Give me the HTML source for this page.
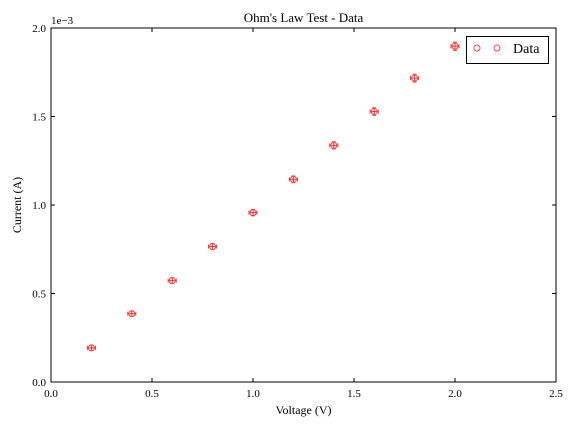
<!DOCTYPE html>
<html><head><meta charset="utf-8"><style>
body{margin:0;background:#fff}
svg{font-family:"Liberation Serif",serif}
</style></head><body>
<svg width="576" height="432" viewBox="0 0 576 432">
<rect width="576" height="432" fill="#fff"/>
<g id="g"></g>
</svg>
<script>
const xVals=[0.2,0.4,0.6,0.8,1.0,1.2,1.4,1.6,1.8,2.0];
const yVals=[0.193,0.386,0.573,0.765,0.957,1.145,1.337,1.528,1.717,1.897];
const xErr=[0.02,0.02,0.02,0.02,0.02,0.02,0.02,0.02,0.02,0.02];
const yErr=[0.015,0.015,0.016,0.017,0.018,0.019,0.02,0.021,0.022,0.023];
const xTicks=["0.0","0.5","1.0","1.5","2.0","2.5"];
const yTicks=["0.0","0.5","1.0","1.5","2.0"];
const L=51,R=556,T=28,B=382;
const xs=v=>L+(v/2.5)*(R-L), ys=v=>B-(v/2.0)*(B-T);
const g=document.getElementById('g');const NS='http://www.w3.org/2000/svg';
function mk(t,a,p){const e=document.createElementNS(NS,t);for(const k in a)e.setAttribute(k,a[k]);(p||g).appendChild(e);return e;}
let e;
e=mk('rect',{x:L,y:T,width:R-L,height:B-T,fill:'none',stroke:'#000','stroke-width':1});


xTicks.forEach(t=>{const x=xs(+t);
 mk('line',{x1:x,x2:x,y1:B,y2:B-4,stroke:'#000'});mk('line',{x1:x,x2:x,y1:T,y2:T+4,stroke:'#000'});
 e=mk('text',{x:x,y:B+15,'text-anchor':'middle','font-size':11});e.textContent=t;
 
 });
yTicks.forEach(t=>{const y=ys(+t);
 mk('line',{x1:L,x2:L+4,y1:y,y2:y,stroke:'#000'});mk('line',{x1:R,x2:R-4,y1:y,y2:y,stroke:'#000'});
 e=mk('text',{x:L-5,y:y+4,'text-anchor':'end','font-size':11});e.textContent=t;
 
 });
e=mk('text',{x:L,y:T-4,'font-size':11});e.textContent='1e\u22123';


e=mk('text',{x:(L+R)/2,y:T-6,'text-anchor':'middle','font-size':13});e.textContent="Ohm's Law Test - Data";


e=mk('text',{x:(L+R)/2,y:414,'text-anchor':'middle','font-size':12});e.textContent='Voltage (V)';


e=mk('text',{x:21,y:(T+B)/2,'text-anchor':'middle','font-size':12,transform:`rotate(-90 21 ${(T+B)/2})`});e.textContent='Current (A)';


xVals.forEach((xv,i)=>{const cx=xs(xv),cy=ys(yVals[i]);
 const pg=mk('g',{});
 
 
 const x1=xs(xv-xErr[i]),x2=xs(xv+xErr[i]),y1=ys(yVals[i]-yErr[i]),y2=ys(yVals[i]+yErr[i]);
 const st={stroke:'#e33','stroke-width':1};
 mk('line',{x1:x1,x2:x2,y1:cy,y2:cy,...st},pg);mk('line',{x1:cx,x2:cx,y1:y1,y2:y2,...st},pg);
 mk('line',{x1:x1,x2:x1,y1:cy-2,y2:cy+2,...st},pg);mk('line',{x1:x2,x2:x2,y1:cy-2,y2:cy+2,...st},pg);
 mk('line',{x1:cx-2,x2:cx+2,y1:y1,y2:y1,...st},pg);mk('line',{x1:cx-2,x2:cx+2,y1:y2,y2:y2,...st},pg);
 mk('circle',{cx:cx,cy:cy,r:3,fill:'none',stroke:'#f44','stroke-width':1},pg);});
const lg=mk('g',{});


mk('rect',{x:466.5,y:36.5,width:82,height:27,fill:'#fff',stroke:'#000'},lg);
mk('circle',{cx:477,cy:48,r:3,fill:'none',stroke:'#f44'},lg);
mk('circle',{cx:497,cy:48,r:3,fill:'none',stroke:'#f44'},lg);
e=mk('text',{x:513,y:53,'font-size':14},lg);e.textContent='Data';


</script>
</body></html>
